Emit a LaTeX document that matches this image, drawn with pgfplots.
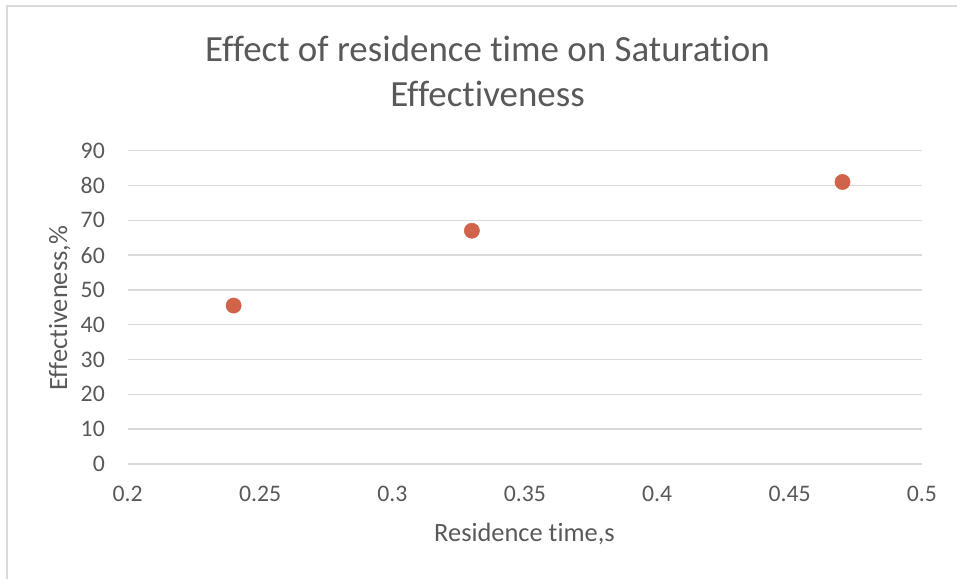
\documentclass[border=0pt]{standalone}
\usepackage{fontspec}
\setmainfont{Carlito}[Ligatures=NoCommon]
\usepackage{pgfplots}
\pgfplotsset{compat=1.18}
\definecolor{txtgray}{HTML}{595959}
\definecolor{gridgray}{HTML}{D9D9D9}
\definecolor{ptcol}{RGB}{209,99,74}
\begin{document}
\begin{tikzpicture}
\useasboundingbox (-95.8pt,-86.25pt) rectangle (622pt,348pt);
\draw[gridgray, line width=0.9pt] (-90.5pt,-90pt) -- (-90.5pt,343.5pt) -- (630pt,343.5pt);
\begin{axis}[
  at={(0,0)}, anchor=south west,
  scale only axis,
  width=595.7pt, height=235pt,
  xmin=0.2, xmax=0.5, ymin=0, ymax=90,
  xtick={0.2,0.25,0.3,0.35,0.4,0.45,0.5},
  xticklabels={0.2,0.25,0.3,0.35,0.4,0.45,0.5},
  ytick={0,10,...,90},
  axis line style={draw=none},
  major tick length=0pt,
  ymajorgrids,
  grid style={gridgray, line width=1pt},
  /pgf/number format/assume math mode=true,
  tick label style={font=\fontsize{17.8}{20}\selectfont, text=txtgray},
  xticklabel style={anchor=base, inner sep=0pt, yshift=-28.3pt},
  yticklabel style={anchor=east, inner sep=0pt, xshift=-17pt},
  clip=false,
]
\addplot[only marks, mark=*, mark size=5.7pt, ptcol, mark options={draw=ptcol, fill=ptcol}]
  coordinates {(0.24,45.5) (0.33,67) (0.47,81)};
\end{axis}
\node[anchor=base, text=txtgray, font=\fontsize{27.7}{33}\selectfont, inner sep=0pt] at (269.85pt,301.7pt) {Effect of residence time on Saturation};
\node[anchor=base, text=txtgray, font=\fontsize{27.7}{33}\selectfont, inner sep=0pt] at (269.85pt,267.75pt) {Effectiveness};
\node[anchor=base, text=txtgray, font=\fontsize{19.8}{23}\selectfont, inner sep=0pt] at (297.6pt,-58.3pt) {Residence time,s};
\node[anchor=base, rotate=90, text=txtgray, font=\fontsize{19.8}{23}\selectfont, inner sep=0pt] at (-45.5pt,117pt) {Effectiveness,\%};
\end{tikzpicture}
\end{document}
